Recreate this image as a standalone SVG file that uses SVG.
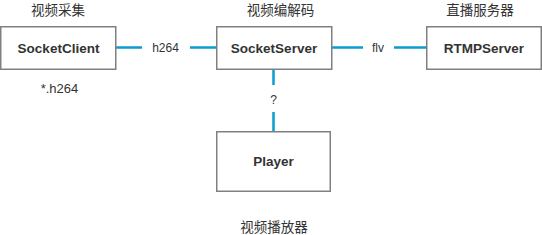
<svg xmlns="http://www.w3.org/2000/svg" width="542" height="235" viewBox="0 0 542 235">
<style>
.box{fill:#fff;stroke:#808080;stroke-width:1.5}
.nt{font-family:"Liberation Sans",Arial,sans-serif;font-size:13.5px;font-weight:bold;fill:#333;text-anchor:middle}
.lb{font-family:"Liberation Sans","Noto Sans CJK SC",sans-serif;font-size:12px;fill:#333;text-anchor:middle}
.cj{font-family:"Noto Sans CJK SC",sans-serif;font-size:13.5px;fill:#333;text-anchor:middle}
.ln{stroke:#0a9ccf;stroke-width:2.5;fill:none}
</style>
<rect width="542" height="235" fill="#fff"/>
<g id="connectors">
<line class="ln" x1="116" y1="47.5" x2="142" y2="47.5"/>
<line class="ln" x1="190" y1="47.5" x2="216" y2="47.5"/>
<text class="lb" x="165.5" y="52">h264</text>
<line class="ln" x1="332" y1="47.5" x2="363" y2="47.5"/>
<line class="ln" x1="394" y1="47.5" x2="426" y2="47.5"/>
<text class="lb" x="378" y="52">flv</text>
<line class="ln" x1="273.5" y1="70" x2="273.5" y2="85"/>
<line class="ln" x1="273.5" y1="112" x2="273.5" y2="131"/>
<text class="lb" x="273.5" y="104">?</text>
</g>
<g id="SocketClient">
<rect class="box" x="0.75" y="26.75" width="115" height="42.5"/>
<text class="nt" x="58.5" y="52.5">SocketClient</text>
<text class="cj" x="58" y="14.5">视频采集</text>
<text class="lb" x="59.5" y="93" style="font-size:13px">*.h264</text>
</g>
<g id="SocketServer">
<rect class="box" x="216.75" y="26.75" width="115" height="42.5"/>
<text class="nt" x="274" y="52.5">SocketServer</text>
<text class="cj" x="280.5" y="14.5">视频编解码</text>
</g>
<g id="RTMPServer">
<rect class="box" x="426.75" y="26.75" width="114.5" height="42.5"/>
<text class="nt" x="484" y="52.5">RTMPServer</text>
<text class="cj" x="480" y="14.5">直播服务器</text>
</g>
<g id="Player">
<rect class="box" x="216.75" y="131.75" width="113.5" height="59.5"/>
<text class="nt" x="273.5" y="166">Player</text>
<text class="cj" x="274" y="232">视频播放器</text>
</g>
</svg>
